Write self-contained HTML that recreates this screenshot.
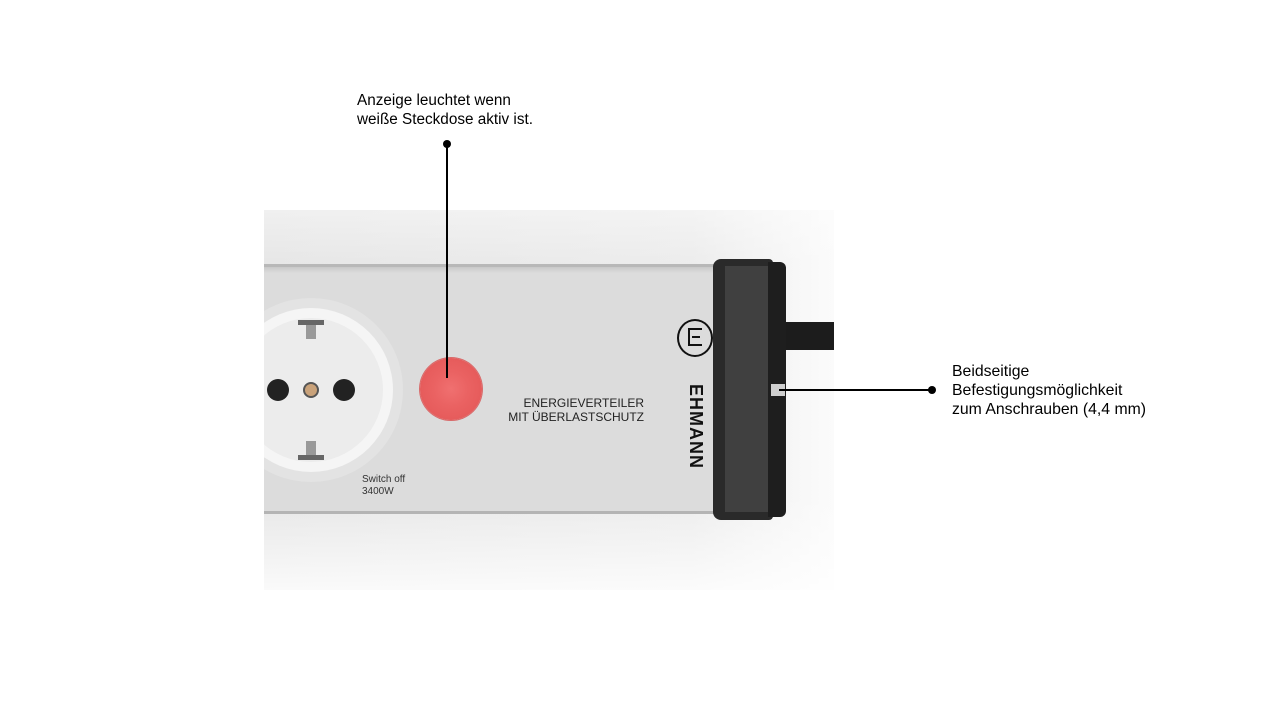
<!DOCTYPE html>
<html><head><style>
body{margin:0;width:1280px;height:720px;background:#fff;position:relative;overflow:hidden;font-family:"Liberation Sans",sans-serif}
.a{position:absolute}
</style></head><body>
<div class="a" style="left:264px;top:210px;width:570px;height:380px;background:linear-gradient(90deg,#e6e6e6 0%,#ececec 75%,#fbfbfb 100%)"></div>
<div class="a" style="left:264px;top:210px;width:570px;height:380px;background:linear-gradient(180deg,rgba(255,255,255,.4) 0%,rgba(255,255,255,0) 15%,rgba(255,255,255,0) 75%,rgba(255,255,255,.8) 100%)"></div>
<div class="a" style="left:770px;top:322px;width:64px;height:28px;background:#1c1c1c"></div>
<div class="a" style="left:264px;top:264px;width:460px;height:250px;background:#dcdcdc;border-top:3px solid #b8b8b8;border-bottom:3px solid #b4b4b4;box-sizing:border-box"></div>
<div class="a" style="left:264px;top:267px;width:460px;height:6px;background:linear-gradient(#c9c9c9,#dcdcdc)"></div>
<div class="a" style="left:713px;top:259px;width:60px;height:261px;background:#2a2a2a;border-radius:8px 4px 4px 8px"></div>
<div class="a" style="left:725px;top:266px;width:46px;height:246px;background:#404040"></div>
<div class="a" style="left:768px;top:262px;width:18px;height:255px;background:#1e1e1e;border-radius:0 6px 6px 0"></div>
<div class="a" style="left:771px;top:384px;width:14px;height:12px;background:#cfcfcf"></div>
<div class="a" style="left:264px;top:290px;width:150px;height:200px;overflow:hidden">
<div class="a" style="left:-45px;top:8px;width:184px;height:184px;border-radius:50%;background:#e3e3e3"></div>
<div class="a" style="left:-35px;top:18px;width:164px;height:164px;border-radius:50%;background:#f5f5f5"></div>
<div class="a" style="left:-25px;top:28px;width:144px;height:144px;border-radius:50%;background:#ececec"></div>
<div class="a" style="left:3px;top:89px;width:22px;height:22px;border-radius:50%;background:#222"></div>
<div class="a" style="left:69px;top:89px;width:22px;height:22px;border-radius:50%;background:#222"></div>
<div class="a" style="left:39px;top:92px;width:16px;height:16px;border-radius:50%;background:#c9a27a;border:2px solid #555;box-sizing:border-box"></div>
<div class="a" style="left:34px;top:30px;width:26px;height:5px;background:#666"></div>
<div class="a" style="left:42px;top:35px;width:10px;height:14px;background:#999"></div>
<div class="a" style="left:34px;top:165px;width:26px;height:5px;background:#666"></div>
<div class="a" style="left:42px;top:151px;width:10px;height:14px;background:#999"></div>
</div>
<div class="a" style="left:362px;top:474px;font-size:10px;line-height:12px;color:#333">Switch off<br>3400W</div>
<div class="a" style="left:420px;top:358px;width:62px;height:62px;border-radius:50%;background:radial-gradient(circle,#f07070 0%,#ea6262 40%,#e25555 100%);box-shadow:0 0 0 1px #d86a6a"></div>
<div class="a" style="left:480px;top:396px;width:164px;text-align:right;font-size:12px;line-height:14px;color:#222">ENERGIEVERTEILER<br>MIT ÜBERLASTSCHUTZ</div>
<div class="a" style="left:677px;top:319px;width:36px;height:38px;border-radius:50%;border:2px solid #111;box-sizing:border-box"></div>
<div class="a" style="left:688px;top:328px;width:14px;height:18px;border:2px solid #111;border-right:none;box-sizing:border-box"></div>
<div class="a" style="left:692px;top:336px;width:8px;height:2px;background:#111"></div>
<div class="a" style="left:658px;top:412px;width:76px;height:20px;transform:rotate(90deg);font-size:18px;font-weight:bold;color:#111;text-align:center;line-height:20px;letter-spacing:1px;white-space:nowrap">EHMANN</div>
<div class="a" style="left:446px;top:144px;width:2px;height:234px;background:#000"></div>
<div class="a" style="left:443px;top:140px;width:8px;height:8px;border-radius:50%;background:#000"></div>
<div class="a" style="left:357px;top:91px;font-size:15.3px;line-height:19px;color:#000">Anzeige leuchtet wenn<br>weiße Steckdose aktiv ist.</div>
<div class="a" style="left:779px;top:389px;width:152px;height:2px;background:#000"></div>
<div class="a" style="left:928px;top:386px;width:8px;height:8px;border-radius:50%;background:#000"></div>
<div class="a" style="left:952px;top:362px;font-size:15.8px;line-height:19px;color:#000">Beidseitige<br>Befestigungsmöglichkeit<br>zum Anschrauben (4,4 mm)</div>
</body></html>
